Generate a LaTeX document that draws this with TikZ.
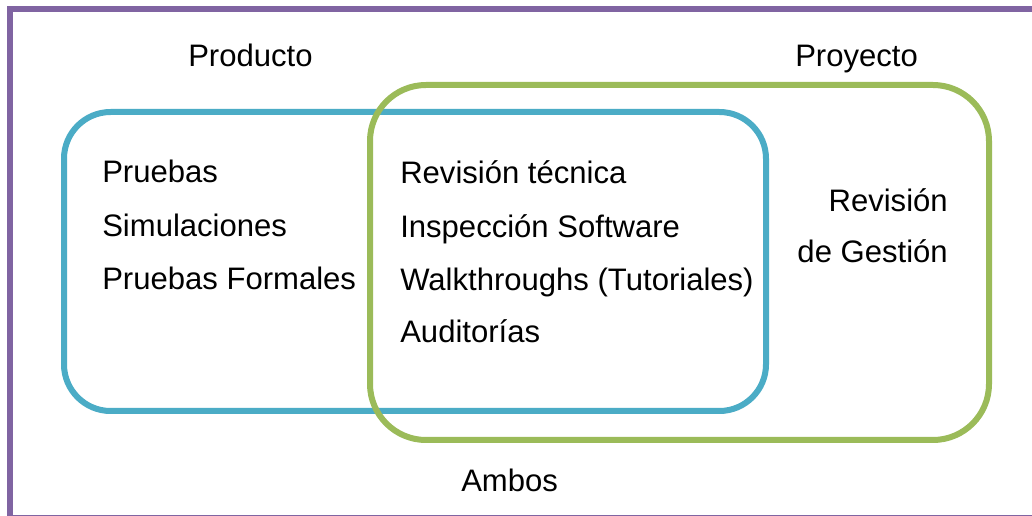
\documentclass[tikz,border=0pt]{standalone}
\usepackage{fontspec}
\setmainfont{Liberation Sans}
\definecolor{framepurple}{HTML}{8064A2}
\definecolor{prodblue}{HTML}{4BACC6}
\definecolor{projgreen}{HTML}{9BBB59}
\tikzset{
  lbl/.style={inner sep=0pt, anchor=base west, font=\fontsize{23.3}{28}\selectfont, text=black},
  lblr/.style={lbl, anchor=base east},
  setbox/.style={line width=4.5pt},
}
\begin{document}
\begin{tikzpicture}[x=0.75pt,y=-0.75pt]
  \useasboundingbox (0,0) rectangle (1032,516);
  \fill[white] (0,0) rectangle (1032,516);
  \begin{scope}
    \clip (0,0) rectangle (1032,516);
    \draw[framepurple, line width=4.5pt] (10,9) rectangle (1045,518);
  \end{scope}

  % the two sets
  \draw[setbox, prodblue, rounded corners=35pt] (64,112) rectangle (766,411);
  \draw[setbox, projgreen, rounded corners=42pt] (370,85) rectangle (989,440);

  % set titles
  \node[lbl] (producto) at (188,67) {Producto};
  \node[lbl] (proyecto) at (795,67) {Proyecto};
  \node[lbl] (ambos) at (461,492) {Ambos};

  % product only
  \node[lbl] (p1) at (102,183) {Pruebas};
  \node[lbl] (p2) at (102,237) {Simulaciones};
  \node[lbl] (p3) at (102,290) {Pruebas Formales};

  % both
  \node[lbl] (b1) at (400,184) {Revisión técnica};
  \node[lbl] (b2) at (400,238) {Inspección Software};
  \node[lbl] (b3) at (400,291) {Walkthroughs (Tutoriales)};
  \node[lbl] (b4) at (400,343) {Auditorías};

  % project only
  \node[lblr] (g1) at (948,212) {Revisión};
  \node[lblr] (g2) at (948,263) {de Gestión};
\end{tikzpicture}
\end{document}
